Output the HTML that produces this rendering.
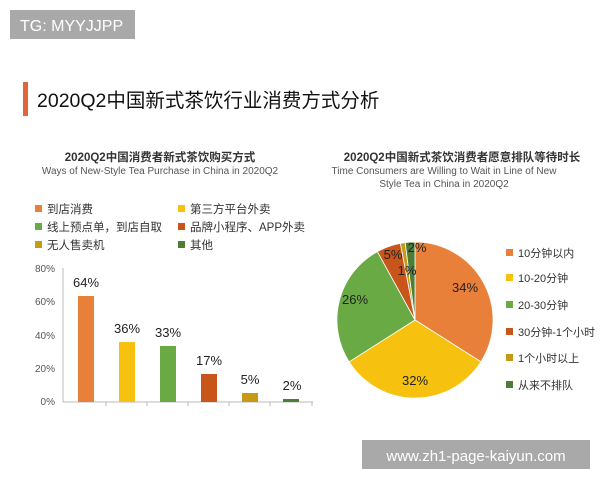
<!DOCTYPE html>
<html><head><meta charset="utf-8"><style>
body{margin:0;width:600px;height:480px;background:#fff;overflow:hidden;font-family:"Liberation Sans","Noto Sans CJK SC",sans-serif;}
</style></head><body>
<svg width="600" height="480" xmlns="http://www.w3.org/2000/svg" style="font-family:'Liberation Sans','Noto Sans CJK SC',sans-serif">
<rect x="10" y="10" width="125" height="29" fill="#a9a9a9"/>
<text x="20" y="31" font-size="16" fill="#fff">TG: MYYJJPP</text>
<rect x="23" y="82" width="5" height="34" fill="#e0663a"/>
<text x="37" y="107" font-size="19.5" fill="#111">2020Q2中国新式茶饮行业消费方式分析</text>

<text x="160" y="161" font-size="11.5" font-weight="bold" fill="#333" text-anchor="middle">2020Q2中国消费者新式茶饮购买方式</text>
<text x="160" y="174" font-size="10" fill="#555" text-anchor="middle">Ways of New-Style Tea Purchase in China in 2020Q2</text>
<g font-size="11.5" fill="#333">
<rect x="35" y="205" width="7" height="7" fill="#e8803a"/><text x="47" y="213">到店消费</text>
<rect x="178" y="205" width="7" height="7" fill="#f7c20f"/><text x="190" y="213">第三方平台外卖</text>
<rect x="35" y="223" width="7" height="7" fill="#6aaa45"/><text x="47" y="231">线上预点单，到店自取</text>
<rect x="178" y="223" width="7" height="7" fill="#c8561a"/><text x="190" y="231">品牌小程序、APP外卖</text>
<rect x="35" y="241" width="7" height="7" fill="#c59a16"/><text x="47" y="249">无人售卖机</text>
<rect x="178" y="241" width="7" height="7" fill="#4e7d36"/><text x="190" y="249">其他</text>
</g>
<g font-size="10" fill="#555" text-anchor="end">
<text x="55" y="272">80%</text><text x="55" y="305">60%</text><text x="55" y="339">40%</text><text x="55" y="372">20%</text><text x="55" y="405">0%</text>
</g>
<line x1="63" y1="268" x2="63" y2="402" stroke="#bbb"/>
<line x1="63" y1="402" x2="313" y2="402" stroke="#bbb"/>
<g stroke="#bbb"><line x1="106" y1="402" x2="106" y2="406"/><line x1="147" y1="402" x2="147" y2="406"/><line x1="188" y1="402" x2="188" y2="406"/><line x1="229" y1="402" x2="229" y2="406"/><line x1="270" y1="402" x2="270" y2="406"/><line x1="312" y1="402" x2="312" y2="406"/></g>
<rect x="78" y="296" width="16" height="106" fill="#e8803a"/>
<rect x="119" y="342" width="16" height="60" fill="#f7c20f"/>
<rect x="160" y="346" width="16" height="56" fill="#6aaa45"/>
<rect x="201" y="374" width="16" height="28" fill="#c8561a"/>
<rect x="242" y="393" width="16" height="9" fill="#c59a16"/>
<rect x="283" y="399" width="16" height="3" fill="#4e7d36"/>
<g font-size="13" fill="#222" text-anchor="middle">
<text x="86" y="287">64%</text><text x="127" y="333">36%</text><text x="168" y="337">33%</text><text x="209" y="365">17%</text><text x="250" y="384">5%</text><text x="292" y="390">2%</text>
</g>

<text x="462" y="161" font-size="11.5" font-weight="bold" fill="#333" text-anchor="middle">2020Q2中国新式茶饮消费者愿意排队等待时长</text>
<text x="444" y="174" font-size="10" fill="#555" text-anchor="middle">Time Consumers are Willing to Wait in Line of New</text>
<text x="444" y="187" font-size="10" fill="#555" text-anchor="middle">Style Tea in China in 2020Q2</text>
<g stroke="#fff" stroke-width="0.8">
<path d="M415,320 L415,242 A78,78 0 0 1 480.9,361.8 Z" fill="#e8803a"/>
<path d="M415,320 L480.9,361.8 A78,78 0 0 1 349.1,361.8 Z" fill="#f7c20f"/>
<path d="M415,320 L349.1,361.8 A78,78 0 0 1 377.4,251.6 Z" fill="#6aaa45"/>
<path d="M415,320 L377.4,251.6 A78,78 0 0 1 400.4,243.4 Z" fill="#c8561a"/>
<path d="M415,320 L400.4,243.4 A78,78 0 0 1 405.2,242.6 Z" fill="#c59a16"/>
<path d="M415,320 L405.2,242.6 A78,78 0 0 1 415,242 Z" fill="#4e7d36"/>
</g>
<g font-size="13" fill="#222" text-anchor="middle">
<text x="465" y="292">34%</text><text x="415" y="385">32%</text><text x="355" y="304">26%</text><text x="393" y="259">5%</text><text x="407" y="275">1%</text><text x="417" y="252">2%</text>
</g>
<g font-size="11" fill="#333">
<rect x="506" y="249" width="7" height="7" fill="#e8803a"/><text x="518" y="257">10分钟以内</text>
<rect x="506" y="274" width="7" height="7" fill="#f7c20f"/><text x="518" y="282">10-20分钟</text>
<rect x="506" y="301" width="7" height="7" fill="#6aaa45"/><text x="518" y="309">20-30分钟</text>
<rect x="506" y="328" width="7" height="7" fill="#c8561a"/><text x="518" y="336">30分钟-1个小时</text>
<rect x="506" y="354" width="7" height="7" fill="#c59a16"/><text x="518" y="362">1个小时以上</text>
<rect x="506" y="381" width="7" height="7" fill="#4e7d36"/><text x="518" y="389">从来不排队</text>
</g>
<rect x="362" y="440" width="228" height="29" fill="#a9a9a9"/>
<text x="476" y="461" font-size="15" fill="#fff" text-anchor="middle">www.zh1-page-kaiyun.com</text>
</svg>
</body></html>
